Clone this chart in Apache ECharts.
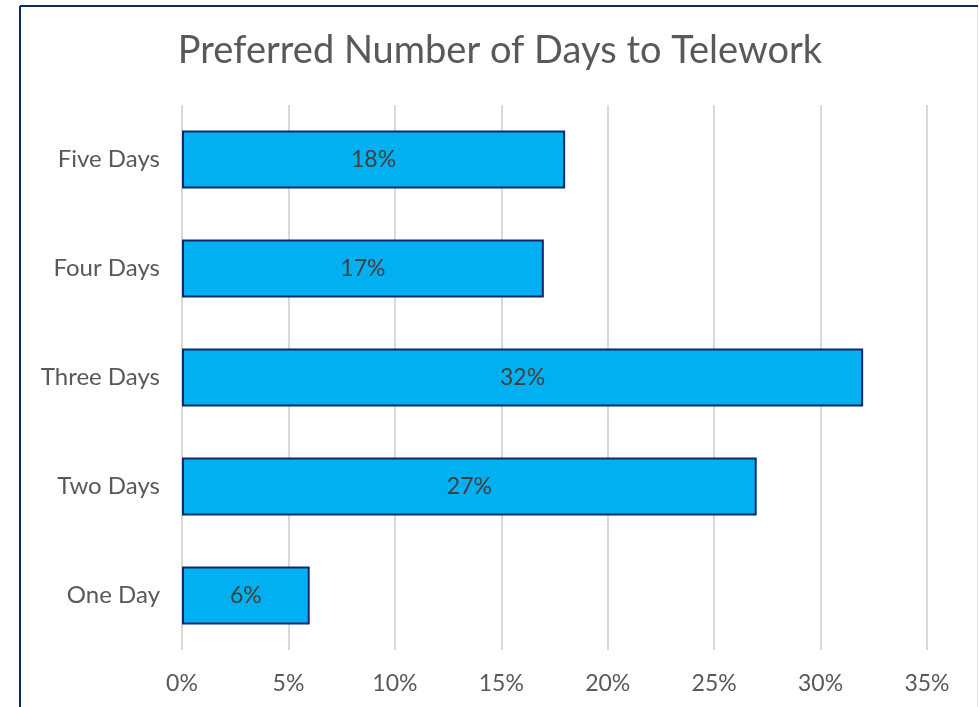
<!DOCTYPE html>
<html>
<head>
<meta charset="utf-8">
<script src="https://cdn.jsdelivr.net/npm/echarts@6/dist/echarts.min.js"></script>
<style>
  html, body { margin: 0; padding: 0; background: #ffffff; }
  #chart { width: 979px; height: 707px; }
</style>
</head>
<body>
<div id="chart"></div>
<script>
// Survey responses: preferred number of telework days per week
const categories = ['One Day', 'Two Days', 'Three Days', 'Four Days', 'Five Days'];
const shares = [6, 27, 32, 17, 18];
const tickMax = 35;
const tickStep = 5;

const FONT = 'Lato';

const chart = echarts.init(document.getElementById('chart'), null, { renderer: 'canvas' });

chart.setOption({
  backgroundColor: '#ffffff',
  animation: false,
  title: {
    text: 'Preferred Number of Days to Telework',
    left: 495,
    textAlign: 'center',
    top: 27,
    textStyle: { fontFamily: FONT, fontSize: 38, fontWeight: 'normal', color: '#595959' }
  },
  graphic: [
    { type: 'line', shape: { x1: 20, y1: 6, x2: 978, y2: 6 }, style: { stroke: '#0e2a6b', lineWidth: 2 } },
    { type: 'line', shape: { x1: 20, y1: 6, x2: 20, y2: 707 }, style: { stroke: '#0e2a6b', lineWidth: 2 } },
    { type: 'line', shape: { x1: 977.5, y1: 7, x2: 977.5, y2: 707 }, style: { stroke: '#e0e0e0', lineWidth: 1 } }
  ],
  grid: { left: 182, right: 52, top: 105, bottom: 57, containLabel: false },
  xAxis: {
    type: 'value',
    min: 0,
    max: tickMax,
    interval: tickStep,
    axisLine: { show: false },
    axisTick: { show: false },
    axisLabel: {
      formatter: v => v + '%',
      fontFamily: FONT, fontSize: 23, color: '#595959', margin: 22
    },
    splitLine: { show: true, lineStyle: { color: '#d9d9d9', width: 2 } }
  },
  yAxis: {
    type: 'category',
    data: categories,
    axisLine: { show: false },
    axisTick: { show: false },
    axisLabel: { fontFamily: FONT, fontSize: 24, color: '#595959', margin: 22 }
  },
  series: [{
    type: 'bar',
    data: shares,
    barCategoryGap: '47%',
    itemStyle: { color: '#00b0f0', borderColor: '#0e2a6b', borderWidth: 2 },
    label: {
      show: true,
      position: 'inside',
      formatter: p => p.value + '%',
      fontFamily: FONT, fontSize: 23, color: '#404040'
    }
  }]
});
</script>
</body>
</html>
